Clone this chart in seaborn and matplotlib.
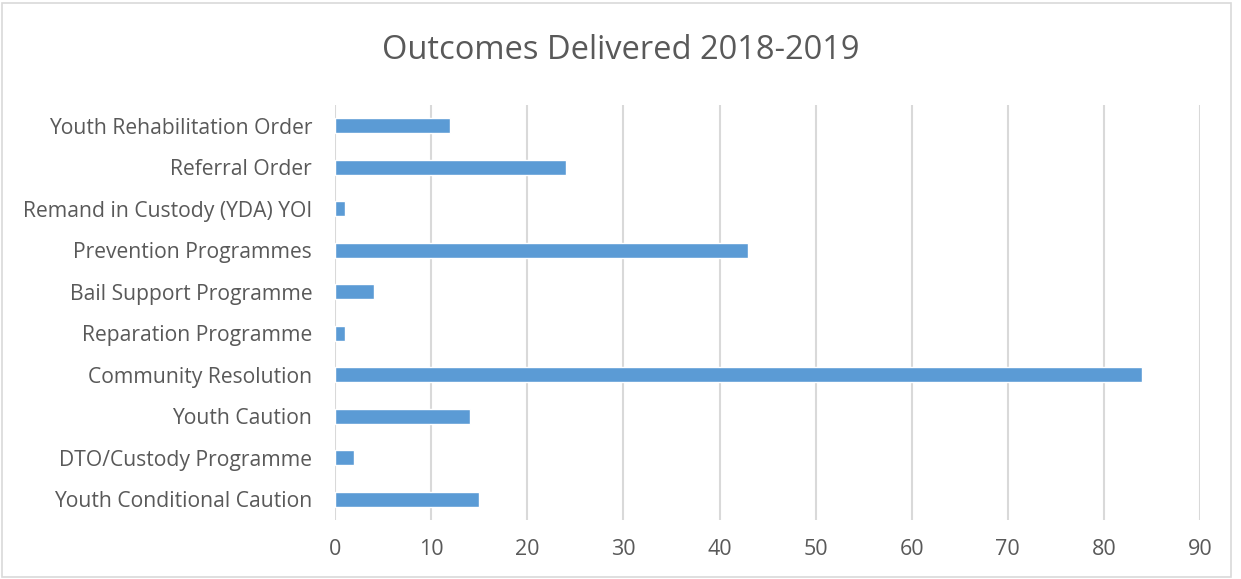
import matplotlib
matplotlib.use("Agg")
import matplotlib.pyplot as plt
import seaborn as sns
import pandas as pd
from matplotlib.patches import Rectangle

categories = [
    "Youth Rehabilitation Order",
    "Referral Order",
    "Remand in Custody (YDA) YOI",
    "Prevention Programmes",
    "Bail Support Programme",
    "Reparation Programme",
    "Community Resolution",
    "Youth Caution",
    "DTO/Custody Programme",
    "Youth Conditional Caution",
]
values = [12, 24, 1, 43, 4, 1, 84, 14, 2, 15]
xticks = [0, 10, 20, 30, 40, 50, 60, 70, 80, 90]

df = pd.DataFrame({"category": categories, "value": values})

sns.set_theme(style="white")
plt.rcParams["font.family"] = ["Open Sans", "DejaVu Sans"]

fig = plt.figure(figsize=(12.41, 5.79), dpi=100)
ax = fig.add_axes([0.27, 0.102, 0.697, 0.717])

sns.barplot(data=df, x="value", y="category", orient="h", color="#5B9BD5",
            width=0.36, saturation=1, ax=ax, zorder=3)

ax.set_xlim(0, 90)
ax.set_xticks(xticks)
ax.set_xticklabels([str(t) for t in xticks], fontsize=15.5, color="#595959")
ax.tick_params(axis="y", labelsize=15.2, length=0, pad=16.5)
ax.tick_params(axis="x", length=0, pad=14)
for lbl in ax.get_yticklabels():
    lbl.set_color("#595959")
ax.set_xlabel("")
ax.set_ylabel("")
ax.grid(axis="x", color="#D9D9D9", linewidth=1.5, zorder=0)
ax.grid(axis="y", visible=False)
for s in ax.spines.values():
    s.set_visible(False)
ax.set_ylim(9.5, -0.5)

fig.text(0.5, 0.913, "Outcomes Delivered 2018-2019", ha="center", va="center",
         fontsize=23.5, color="#595959")

fig.patches.append(Rectangle((0.002, 0.004), 0.99, 0.99, transform=fig.transFigure,
                             fill=False, edgecolor="#D9D9D9", linewidth=1.2))

fig.savefig("out.png", dpi=100)
